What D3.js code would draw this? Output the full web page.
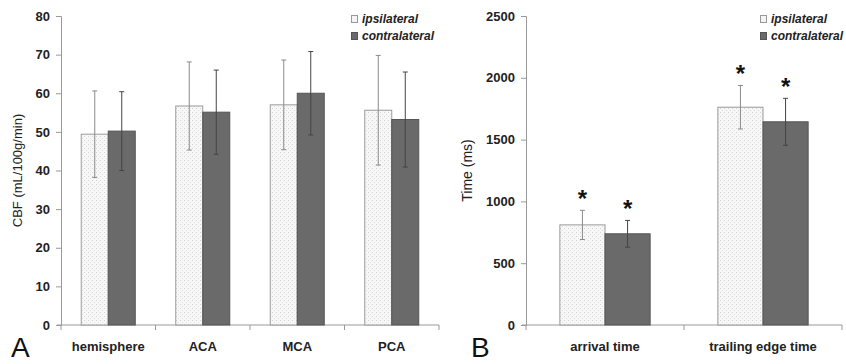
<!DOCTYPE html>
<html>
<head>
<meta charset="utf-8">
<script src="https://cdn.jsdelivr.net/npm/d3@7"></script>
<style>
  body { margin: 0; background: #fff; }
  svg { font-family: Arial, "Liberation Sans", sans-serif; }
</style>
</head>
<body>
<svg id="chart" width="846" height="364"></svg>
<script>
// panel A data (CBF)
const regions = ['hemisphere', 'ACA', 'MCA', 'PCA'];
const cbfIpsi = [49.4, 56.7, 57.0, 55.6];
const cbfIpsiSd = [11.2, 11.4, 11.6, 14.2];
const cbfContra = [50.2, 55.1, 60.0, 53.2];
const cbfContraSd = [10.2, 10.9, 10.8, 12.3];
const cbfTicks = [0, 10, 20, 30, 40, 50, 60, 70, 80];

// panel B data (timing)
const phases = ['arrival time', 'trailing edge time'];
const timeIpsi = [810, 1762];
const timeIpsiSd = [118, 176];
const timeContra = [738, 1644];
const timeContraSd = [108, 190];
const timeTicks = [0, 500, 1000, 1500, 2000, 2500];
const timeStars = [true, true]; // significant for both sides

const seriesNames = ['ipsilateral', 'contralateral'];

const svg = d3.select('#chart');

// dotted fill used for the ipsilateral bars
const defs = svg.append('defs');
const pat = defs.append('pattern')
  .attr('id', 'dots')
  .attr('width', 4).attr('height', 4)
  .attr('patternUnits', 'userSpaceOnUse');
pat.append('rect').attr('width', 4).attr('height', 4).attr('fill', '#f7f7f7');
pat.append('rect').attr('x', 0).attr('y', 0).attr('width', 1).attr('height', 1).attr('fill', '#d2d2d2');
pat.append('rect').attr('x', 2).attr('y', 2).attr('width', 1).attr('height', 1).attr('fill', '#dedede');

const fills = ['url(#dots)', '#6a6a6a'];
const strokes = ['#9a9a9a', '#555'];

function panel(opts) {
  const { x0, x1, yTop, yBot, cats, ipsi, ipsiSd, contra, contraSd, ticks, yMax,
          yLabel, yLabelX, yLabelSize, letter, letterX, legendX, stars } = opts;

  const x = d3.scaleBand().domain(cats).range([x0, x1]).padding(0);
  const xs = d3.scaleBand().domain(seriesNames).range([0, x.bandwidth()])
    .paddingInner(0).paddingOuter(0.75);
  const y = d3.scaleLinear().domain([0, yMax]).range([yBot, yTop]);

  const g = svg.append('g');

  // y axis
  const yAxis = g.append('g')
    .attr('transform', `translate(${x0},0)`)
    .call(d3.axisLeft(y).tickValues(ticks).tickFormat(d3.format('d')).tickSize(5).tickPadding(6));
  yAxis.select('.domain').attr('stroke', '#999');
  yAxis.selectAll('.tick line').attr('stroke', '#999');
  yAxis.attr('font-size', 13).attr('font-family', 'Arial, "Liberation Sans", sans-serif');
  yAxis.selectAll('.tick text')
    .attr('font-weight', 'bold').attr('fill', '#222');

  // x axis: ticks at category boundaries
  const bounds = cats.map(c => x(c)).concat([x1]);
  g.append('line')
    .attr('x1', x0 - 4).attr('x2', x1).attr('y1', yBot).attr('y2', yBot)
    .attr('stroke', '#999');
  g.selectAll('.xb').data(bounds).enter().append('line')
    .attr('x1', d => d).attr('x2', d => d)
    .attr('y1', yBot).attr('y2', yBot + 5)
    .attr('stroke', '#999');

  g.selectAll('.xl').data(cats).enter().append('text')
    .attr('x', d => x(d) + x.bandwidth() / 2)
    .attr('y', yBot + 26)
    .attr('text-anchor', 'middle')
    .attr('font-size', 13).attr('font-weight', 'bold').attr('fill', '#222')
    .text(d => d);

  const rows = [];
  cats.forEach((c, i) => {
    rows.push({ c, s: 0, v: ipsi[i], sd: ipsiSd[i], star: stars && stars[i] });
    rows.push({ c, s: 1, v: contra[i], sd: contraSd[i], star: stars && stars[i] });
  });

  // bars
  g.selectAll('.bar').data(rows).enter().append('rect')
    .attr('x', d => x(d.c) + xs(seriesNames[d.s]))
    .attr('width', xs.bandwidth())
    .attr('y', d => y(d.v))
    .attr('height', d => y(0) - y(d.v))
    .attr('fill', d => fills[d.s])
    .attr('stroke', d => strokes[d.s])
    .attr('stroke-width', 1);

  // error bars
  const cx = d => x(d.c) + xs(seriesNames[d.s]) + xs.bandwidth() / 2;
  const eb = g.selectAll('.err').data(rows).enter().append('g')
    .attr('stroke', d => d.s === 0 ? '#8a8a8a' : '#444')
    .attr('stroke-width', 1);
  eb.append('line')
    .attr('x1', cx).attr('x2', cx)
    .attr('y1', d => y(d.v + d.sd)).attr('y2', d => y(d.v - d.sd));
  eb.append('line')
    .attr('x1', d => cx(d) - 2.5).attr('x2', d => cx(d) + 2.5)
    .attr('y1', d => y(d.v + d.sd)).attr('y2', d => y(d.v + d.sd));
  eb.append('line')
    .attr('x1', d => cx(d) - 2.5).attr('x2', d => cx(d) + 2.5)
    .attr('y1', d => y(d.v - d.sd)).attr('y2', d => y(d.v - d.sd));

  // significance stars
  if (stars) {
    g.selectAll('.star').data(rows.filter(d => d.star)).enter().append('text')
      .attr('x', cx)
      .attr('y', d => y(d.v + d.sd) - 3)
      .attr('text-anchor', 'middle')
      .attr('font-size', 24).attr('font-weight', 'bold').attr('fill', '#111')
      .text('*');
  }

  // y label
  g.append('text')
    .attr('transform', `translate(${yLabelX},${(yTop + yBot) / 2}) rotate(-90)`)
    .attr('text-anchor', 'middle')
    .attr('dy', '0.35em')
    .attr('font-size', yLabelSize).attr('fill', '#222')
    .text(yLabel);

  // panel letter
  g.append('text')
    .attr('x', letterX).attr('y', 357)
    .attr('font-size', 28).attr('fill', '#111')
    .text(letter);

  // legend
  const lg = g.append('g').attr('transform', `translate(${legendX},0)`);
  seriesNames.forEach((s, i) => {
    const ry = 19 + i * 17;
    lg.append('rect')
      .attr('x', 0.5).attr('y', ry - 3.5)
      .attr('width', 6).attr('height', 7)
      .attr('fill', i === 0 ? '#f4f4f4' : '#6a6a6a')
      .attr('stroke', i === 0 ? '#999' : '#555');
    lg.append('text')
      .attr('x', 11).attr('y', ry + 4)
      .attr('font-size', 12).attr('font-weight', 'bold').attr('font-style', 'italic')
      .attr('fill', '#222')
      .text(s);
  });
}

panel({
  x0: 61, x1: 439, yTop: 16, yBot: 325,
  cats: regions, ipsi: cbfIpsi, ipsiSd: cbfIpsiSd, contra: cbfContra, contraSd: cbfContraSd,
  ticks: cbfTicks, yMax: 80,
  yLabel: 'CBF (mL/100g/min)', yLabelX: 17, yLabelSize: 13,
  letter: 'A', letterX: 11, legendX: 351, stars: null
});

panel({
  x0: 526, x1: 842, yTop: 16, yBot: 325,
  cats: phases, ipsi: timeIpsi, ipsiSd: timeIpsiSd, contra: timeContra, contraSd: timeContraSd,
  ticks: timeTicks, yMax: 2500,
  yLabel: 'Time (ms)', yLabelX: 467, yLabelSize: 14,
  letter: 'B', letterX: 471, legendX: 760, stars: timeStars
});
</script>
</body>
</html>
